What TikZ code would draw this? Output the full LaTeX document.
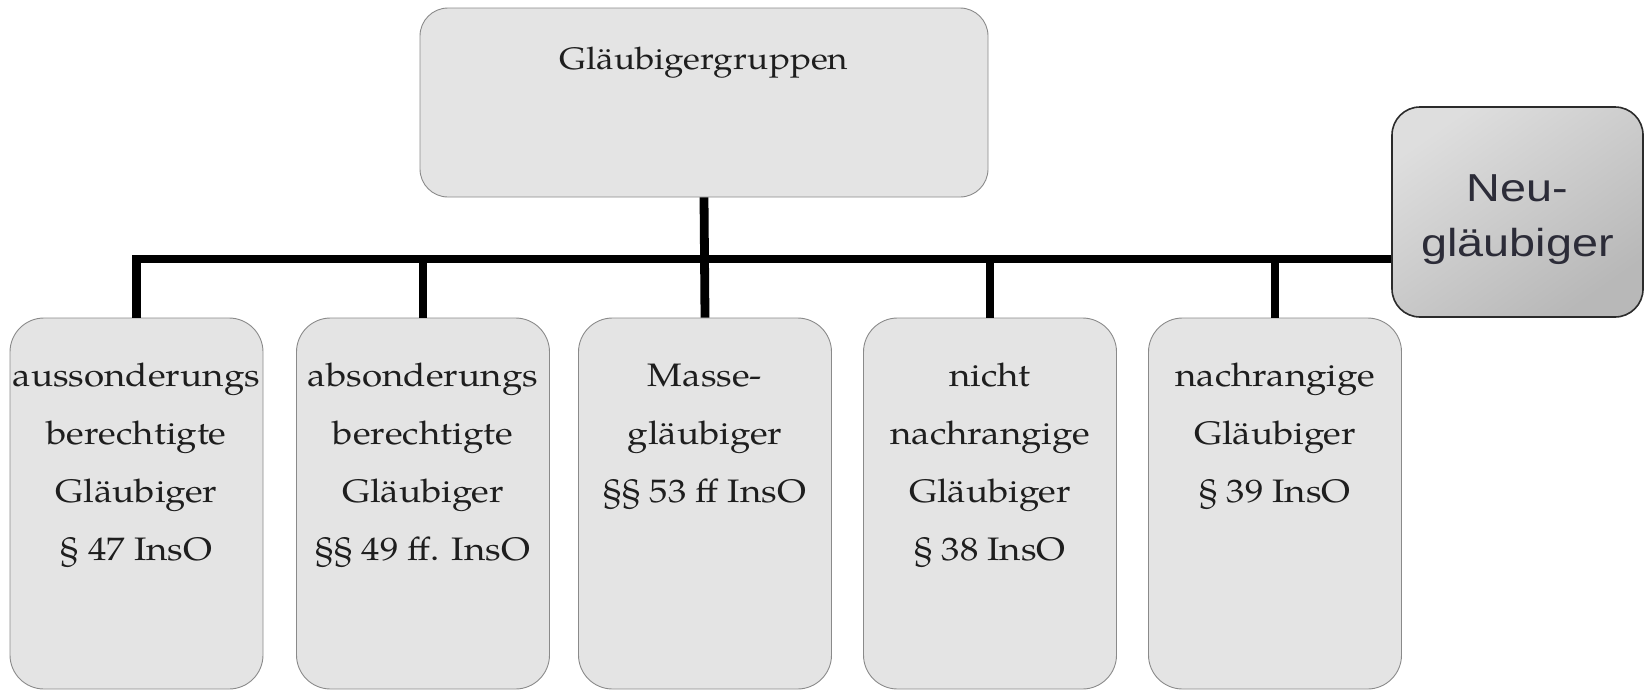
\documentclass[tikz,border=0pt]{standalone}
\usepackage{fontspec}
\setmainfont{texgyrepagella-regular.otf}[FakeStretch=1.13]
\newfontfamily\neufont{Liberation Sans}[FakeStretch=1.2]
\definecolor{boxfill}{HTML}{E4E4E4}
\definecolor{boxline}{HTML}{8A8A8A}
\definecolor{neuline}{HTML}{2B2B2B}
\definecolor{neutext}{HTML}{2C2C38}
\definecolor{txtcol}{HTML}{1E1E1E}
\begin{document}
\begin{tikzpicture}[x=1pt,y=-1pt,
  lowbox/.style={draw=boxline, line width=0.9pt, fill=boxfill, rounded corners=34pt,
    minimum width=253pt, minimum height=371pt, inner sep=0pt},
  topbox/.style={draw=boxline, line width=0.9pt, fill=boxfill, rounded corners=28pt,
    minimum width=568pt, minimum height=189pt, inner sep=0pt},
  neubox/.style={draw=neuline, line width=1.6pt, rounded corners=28pt,
    top color=black!13, bottom color=black!28, shading angle=35,
    minimum width=251pt, minimum height=210pt, inner sep=0pt},
  txt/.style={anchor=north, inner sep=0pt, align=center, text=txtcol,
    font=\fontsize{32.5}{58}\selectfont},
  neutxt/.style={anchor=north, inner sep=0pt, align=center, text=neutext,
    font=\neufont\fontsize{39}{55}\selectfont},
  conn/.style={line width=8.8pt, draw=black, line join=miter}]
\useasboundingbox (0,0) rectangle (1645,691);
% boxes
\node[topbox] (top) at (704,102.5) {};
\node[lowbox] (b1) at (136.5,503.5) {};
\node[lowbox] (b2) at (423,503.5) {};
\node[lowbox] (b3) at (705,503.5) {};
\node[lowbox] (b4) at (990,503.5) {};
\node[lowbox] (b5) at (1275,503.5) {};
\node[neubox] (nb) at (1517.5,212) {};
% texts
\node[txt, font=\fontsize{31}{58}\selectfont] (tt) at ([yshift=-34pt]top.north) {\rule{0pt}{28pt}Gläubigergruppen};
\node[txt] (t1) at ([yshift=-41pt]b1.north) {\rule{0pt}{28pt}aussonderungs\\berechtigte\\Gläubiger\\§ 47 InsO};
\node[txt] (t2) at ([yshift=-41pt]b2.north) {\rule{0pt}{28pt}absonderungs\\berechtigte\\Gläubiger\\§§ 49 ff. InsO};
\node[txt] (t3) at ([yshift=-41pt]b3.north) {\rule{0pt}{28pt}Masse-\\gläubiger\\§§ 53 ff InsO};
\node[txt] (t4) at ([yshift=-41pt]b4.north) {\rule{0pt}{28pt}nicht\\nachrangige\\Gläubiger\\§ 38 InsO};
\node[txt] (t5) at ([yshift=-41pt]b5.north) {\rule{0pt}{28pt}nachrangige\\Gläubiger\\§ 39 InsO};
\node[neutxt] (tn) at ([yshift=-67pt]nb.north) {\rule{0pt}{28pt}Neu-\\gläubiger};
% connectors
\coordinate (bar) at (0,259);
\draw[conn] (top.south) -- (b3.north);
\draw[conn] (b1.north) -- (b1.north |- bar) -- (nb.west |- bar);
\draw[conn] (b2.north) -- (b2.north |- bar);
\draw[conn] (b4.north) -- (b4.north |- bar);
\draw[conn] (b5.north) -- (b5.north |- bar);
\end{tikzpicture}
\end{document}
